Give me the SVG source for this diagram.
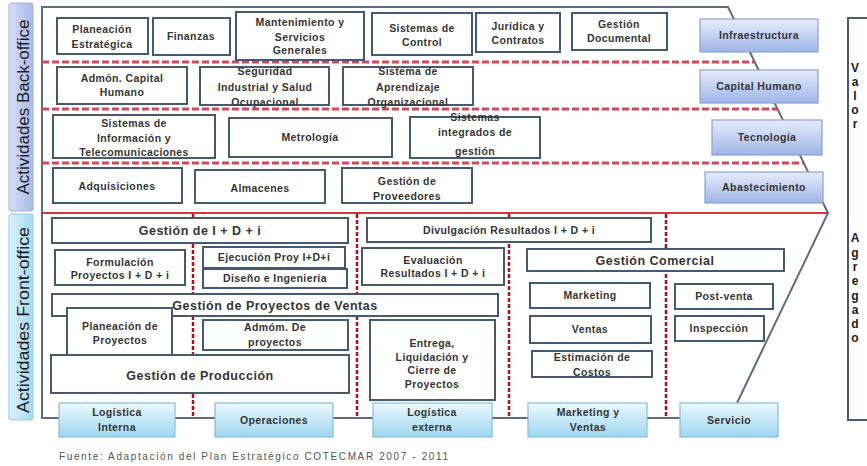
<svg xmlns="http://www.w3.org/2000/svg" width="867" height="466" viewBox="0 0 867 466">
<defs>
<linearGradient id="gSup" x1="0" y1="0" x2="0" y2="1"><stop offset="0" stop-color="#e6ecfb"/><stop offset="1" stop-color="#9fb5e8"/></linearGradient>
<linearGradient id="gPri" x1="0" y1="0" x2="0" y2="1"><stop offset="0" stop-color="#ecf9fe"/><stop offset="1" stop-color="#9dd7ef"/></linearGradient>
<linearGradient id="gBack" x1="0" y1="0" x2="1" y2="0"><stop offset="0" stop-color="#d6def7"/><stop offset="1" stop-color="#a9b9ea"/></linearGradient>
<linearGradient id="gFront" x1="0" y1="0" x2="1" y2="0"><stop offset="0" stop-color="#d9f1fb"/><stop offset="1" stop-color="#a3dbf1"/></linearGradient>
</defs>
<style>
text{font-family:"Liberation Sans",Arial,sans-serif;font-weight:bold;fill:#353535;text-anchor:middle;font-size:10.5px;letter-spacing:0.4px}
.box{fill:#ffffff;stroke:#435a72;stroke-width:2}
.sup{fill:url(#gSup);stroke:#8aa0d0;stroke-width:1.2}
.pri{fill:url(#gPri);stroke:#86bcd6;stroke-width:1.2}
.frame{fill:none;stroke:#5d6d80;stroke-width:2}
.dashH{stroke:#d2495c;stroke-width:3;stroke-dasharray:7 3;fill:none}
.dashV{stroke:#a8121c;stroke-width:2.5;stroke-dasharray:4 2;fill:none}
.red{stroke:#d8343a;stroke-width:2;fill:none}
text.big{font-size:12.5px;letter-spacing:0.5px}
text.side{font-weight:normal;font-size:16px;fill:#1e1e1e;letter-spacing:0}
text.letter{font-size:12px;fill:#1a1a1a;letter-spacing:0}
text.src{font-weight:normal;font-size:10px;fill:#555;text-anchor:start;letter-spacing:0}
</style>

<g id="strip-back"><rect x="9" y="3" width="24" height="208" rx="2" fill="url(#gBack)" stroke="#9fb0d8" stroke-width="1"/><text class="side" transform="translate(29,107) rotate(-90)" textLength="175" lengthAdjust="spacingAndGlyphs">Actividades  Back-office</text></g>
<g id="strip-front"><rect x="9" y="214" width="24" height="206" rx="2" fill="url(#gFront)" stroke="#96cbe0" stroke-width="1"/><text class="side" transform="translate(29,320) rotate(-90)" textLength="186" lengthAdjust="spacingAndGlyphs">Actividades  Front-office</text></g>

<g id="connectors">
<polyline class="frame" points="680,418 42,418 42,7 728,7 828,213 737,403"/>
<line class="dashH" x1="42" y1="62" x2="754" y2="62"/>
<line class="dashH" x1="42" y1="109" x2="777" y2="109"/>
<line class="dashH" x1="42" y1="163" x2="803" y2="163"/>
<line class="red" x1="42" y1="213" x2="828" y2="213"/>
<line class="dashV" x1="193" y1="214" x2="193" y2="418"/>
<line class="dashV" x1="357" y1="214" x2="357" y2="418"/>
<line class="dashV" x1="509" y1="214" x2="509" y2="418"/>
<line class="dashV" x1="666" y1="214" x2="666" y2="418"/>
</g>

<g id="n-planeacion-estrategica"><rect class="box" x="57" y="18" width="91" height="36"/><text x="102" y="33">Planeación</text><text x="102" y="48">Estratégica</text></g>
<g id="n-finanzas"><rect class="box" x="153" y="18" width="77" height="37"/><text x="191" y="40">Finanzas</text></g>
<g id="n-mantenimiento"><rect class="box" x="236" y="12" width="128" height="48"/><text x="300" y="26">Mantenimiento y</text><text x="300" y="41">Servicios</text><text x="300" y="54">Generales</text></g>
<g id="n-sistemas-control"><rect class="box" x="372" y="13" width="100" height="42"/><text x="422" y="32">Sistemas de</text><text x="422" y="46">Control</text></g>
<g id="n-juridica"><rect class="box" x="476" y="13" width="84" height="39"/><text x="518" y="30">Jurídica y</text><text x="518" y="44">Contratos</text></g>
<g id="n-gestion-documental"><rect class="box" x="572" y="13" width="95" height="37"/><text x="619" y="28">Gestión</text><text x="619" y="42">Documental</text></g>
<g id="n-infraestructura"><rect class="sup" x="700" y="19" width="118" height="33"/><text x="759" y="39">Infraestructura</text></g>

<g id="n-admon-capital"><rect class="box" x="57" y="67" width="130" height="37"/><text x="122" y="82">Admón. Capital</text><text x="122" y="96">Humano</text></g>
<g id="n-seguridad"><rect class="box" x="200" y="67" width="129" height="38"/><text x="265" y="75">Seguridad</text><text x="265" y="91">Industrial y Salud</text><text x="265" y="106">Ocupacional</text></g>
<g id="n-aprendizaje"><rect class="box" x="343" y="67" width="130" height="38"/><text x="408" y="75">Sistema de</text><text x="408" y="91">Aprendizaje</text><text x="408" y="106">Organizacional</text></g>
<g id="n-capital-humano"><rect class="sup" x="700" y="70" width="118" height="33"/><text x="759" y="90">Capital Humano</text></g>

<g id="n-sistemas-info"><rect class="box" x="53" y="115" width="162" height="43"/><text x="134" y="127">Sistemas de</text><text x="134" y="142">Información y</text><text x="134" y="156">Telecomunicaciones</text></g>
<g id="n-metrologia"><rect class="box" x="229" y="118" width="163" height="39"/><text x="310" y="141">Metrología</text></g>
<g id="n-sistemas-integrados"><rect class="box" x="410" y="117" width="130" height="41"/><text x="475" y="121">Sistemas</text><text x="475" y="136">integrados de</text><text x="475" y="155">gestión</text></g>
<g id="n-tecnologia"><rect class="sup" x="712" y="120" width="110" height="35"/><text x="767" y="141">Tecnología</text></g>

<g id="n-adquisiciones"><rect class="box" x="53" y="168" width="129" height="35"/><text x="117" y="190">Adquisiciones</text></g>
<g id="n-almacenes"><rect class="box" x="195" y="170" width="130" height="33"/><text x="260" y="192">Almacenes</text></g>
<g id="n-proveedores"><rect class="box" x="342" y="168" width="130" height="35"/><text x="407" y="185">Gestión de</text><text x="407" y="200">Proveedores</text></g>
<g id="n-abastecimiento"><rect class="sup" x="705" y="172" width="118" height="31"/><text x="764" y="191">Abastecimiento</text></g>

<g id="n-gestion-idi"><rect class="box" x="52" y="218" width="296" height="25"/><text class="big" x="200" y="235">Gestión de I + D + i</text></g>
<g id="n-divulgacion"><rect class="box" x="367" y="218" width="284" height="24"/><text x="509" y="234">Divulgación Resultados I + D + i</text></g>
<g id="n-formulacion"><rect class="box" x="55" y="250" width="130" height="35"/><text x="120" y="266">Formulación</text><text x="120" y="279">Proyectos I + D + i</text></g>
<g id="n-ejecucion"><rect class="box" x="203" y="247" width="142" height="21"/><text x="274" y="261">Ejecución Proy I+D+i</text></g>
<g id="n-diseno"><rect class="box" x="203" y="269" width="144" height="19"/><text x="275" y="282">Diseño e Ingeniería</text></g>
<g id="n-evaluacion"><rect class="box" x="362" y="248" width="142" height="37"/><text x="433" y="264">Evaluación</text><text x="433" y="277">Resultados I + D + i</text></g>
<g id="n-gestion-comercial"><rect class="box" x="527" y="249" width="257" height="22"/><text class="big" x="655" y="265">Gestión Comercial</text></g>
<g id="n-proyectos-ventas"><rect class="box" x="52" y="294" width="446" height="22"/><text class="big" x="275" y="310">Gestión de Proyectos de Ventas</text></g>
<g id="n-marketing"><rect class="box" x="530" y="283" width="120" height="25"/><text x="590" y="299">Marketing</text></g>
<g id="n-postventa"><rect class="box" x="675" y="284" width="98" height="25"/><text x="724" y="300">Post-venta</text></g>
<g id="n-ventas"><rect class="box" x="530" y="316" width="121" height="27"/><text x="590" y="333">Ventas</text></g>
<g id="n-inspeccion"><rect class="box" x="675" y="316" width="89" height="25"/><text x="719" y="332">Inspección</text></g>
<g id="n-estimacion"><rect class="box" x="532" y="351" width="120" height="26"/><text x="592" y="361">Estimación de</text><text x="592" y="376">Costos</text></g>
<g id="n-planeacion-proyectos"><rect class="box" x="67" y="308" width="105" height="49"/><text x="120" y="330">Planeación de</text><text x="120" y="344">Proyectos</text></g>
<g id="n-admom"><rect class="box" x="203" y="320" width="145" height="30"/><text x="275" y="331">Admóm. De</text><text x="275" y="346">proyectos</text></g>
<g id="n-produccion"><rect class="box" x="51" y="355" width="298" height="38"/><text class="big" x="200" y="380">Gestión de Producción</text></g>
<g id="n-entrega"><rect class="box" x="370" y="320" width="125" height="80"/><text x="432" y="347">Entrega,</text><text x="432" y="361">Liquidación y</text><text x="432" y="374">Cierre de</text><text x="432" y="388">Proyectos</text></g>

<g id="n-logistica-interna"><rect class="pri" x="59" y="403" width="116" height="34"/><text x="117" y="416">Logística</text><text x="117" y="431">Interna</text></g>
<g id="n-operaciones"><rect class="pri" x="215" y="403" width="118" height="34"/><text x="274" y="424">Operaciones</text></g>
<g id="n-logistica-externa"><rect class="pri" x="373" y="403" width="119" height="34"/><text x="432" y="416">Logística</text><text x="432" y="431">externa</text></g>
<g id="n-marketing-ventas"><rect class="pri" x="528" y="403" width="119" height="34"/><text x="588" y="416">Marketing y</text><text x="588" y="431">Ventas</text></g>
<g id="n-servicio"><rect class="pri" x="680" y="403" width="98" height="34"/><text x="729" y="424">Servicio</text></g>

<g id="n-valor-agregado"><rect x="848" y="18" width="30" height="402" fill="#ffffff" stroke="#4a5a6e" stroke-width="2"/>
<text class="letter" x="855" y="72">V</text><text class="letter" x="855" y="86">a</text><text class="letter" x="855" y="100">l</text><text class="letter" x="855" y="114">o</text><text class="letter" x="855" y="128">r</text>
<text class="letter" x="855" y="242">A</text><text class="letter" x="855" y="257">g</text><text class="letter" x="855" y="271">r</text><text class="letter" x="855" y="285">e</text><text class="letter" x="855" y="300">g</text><text class="letter" x="855" y="314">a</text><text class="letter" x="855" y="328">d</text><text class="letter" x="855" y="342">o</text></g>

<text class="src" x="59" y="460" textLength="389" lengthAdjust="spacing">Fuente: Adaptación del Plan Estratégico COTECMAR 2007 - 2011</text>
</svg>
